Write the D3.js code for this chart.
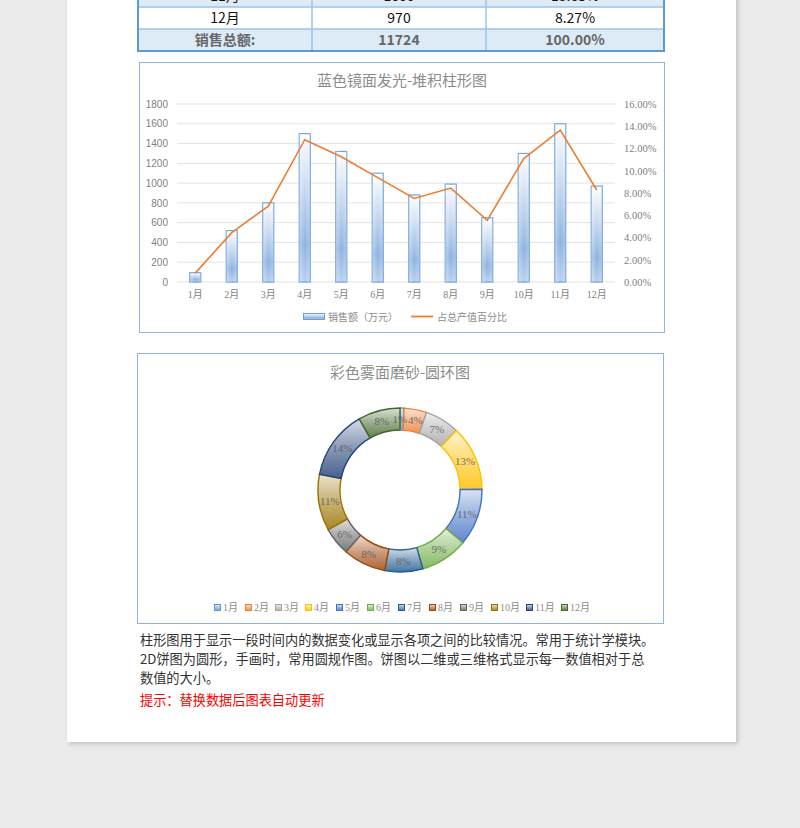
<!DOCTYPE html>
<html><head><meta charset="utf-8">
<script src="https://cdn.jsdelivr.net/npm/d3@7/dist/d3.min.js"></script>
<style>
html,body{margin:0;padding:0;background:#ebebeb;}
svg{display:block;}
</style></head>
<body>
<svg id="c" width="800" height="828"></svg>
<script>
const months = ["1月","2月","3月","4月","5月","6月","7月","8月","9月","10月","11月","12月"];
const sales = [94,520,800,1500,1320,1100,880,990,650,1300,1600,970];
const share = [0.0080,0.0444,0.0682,0.1279,0.1126,0.0938,0.0751,0.0844,0.0554,0.1109,0.1365,0.0827];
const leftTicks = [0,200,400,600,800,1000,1200,1400,1600,1800];
const rightTicks = [0,0.02,0.04,0.06,0.08,0.10,0.12,0.14,0.16];
const donutLabels = ["1%","4%","7%","13%","11%","9%","8%","8%","6%","11%","14%","8%"];
const donutColors = ["#5b9bd5","#ed7d31","#a5a5a5","#ffc000","#4472c4","#70ad47","#255e91","#9e480e","#636363","#997300","#264478","#43682b"];
const tableRows = [["11月","1600","13.65%"],["12月","970","8.27%"],["销售总额:","11724","100.00%"]];
const barTitle = "蓝色镜面发光-堆积柱形图";
const donutTitle = "彩色雾面磨砂-圆环图";
const legendBar = "销售额（万元）";
const legendLine = "占总产值百分比";
const para = ["柱形图用于显示一段时间内的数据变化或显示各项之间的比较情况。常用于统计学模块。",
              "2D饼图为圆形，手画时，常用圆规作图。饼图以二维或三维格式显示每一数值相对于总",
              "数值的大小。"];
const tip = "提示：替换数据后图表自动更新";

const CJK = "'Noto Sans CJK SC','Noto Sans',sans-serif";
const SERIF = "'Liberation Serif','DejaVu Serif','Noto Sans CJK SC',serif";
const svg = d3.select("#c");
const defs = svg.append("defs");

const f = defs.append("filter").attr("id","sh").attr("x","-5%").attr("y","-5%").attr("width","110%").attr("height","110%");
f.append("feDropShadow").attr("dx",2).attr("dy",2).attr("stdDeviation",2).attr("flood-color","#000").attr("flood-opacity",0.18);

svg.append("rect").attr("x",67).attr("y",-10).attr("width",669).attr("height",752).attr("fill","#fff").attr("filter","url(#sh)");

// ---------- table ----------
const colX = [138,312,486,664];
const rowY = [-15,7,29,51];
const tg = svg.append("g");
tableRows.forEach((r,i)=>{
  const y0=rowY[i], y1=rowY[i+1];
  tg.append("rect").attr("x",colX[0]).attr("y",y0).attr("width",colX[3]-colX[0]).attr("height",y1-y0)
    .attr("fill", i===1 ? "#ffffff" : "#ddebf7");
  r.forEach((t,j)=>{
    tg.append("text").attr("x",(colX[j]+colX[j+1])/2).attr("y",(y0+y1)/2+5)
      .attr("text-anchor","middle").attr("font-family",CJK).attr("font-size",14)
      .attr("font-weight", i===2?"bold":"normal")
      .attr("fill", i===2?"#666666":"#111111").text(t);
  });
});
rowY.slice(1,3).forEach(y=>tg.append("line").attr("x1",colX[0]).attr("x2",colX[3]).attr("y1",y).attr("y2",y).attr("stroke","#9dc3e6").attr("stroke-width",1.5));
colX.forEach((x,j)=>tg.append("line").attr("x1",x).attr("x2",x).attr("y1",-15).attr("y2",51).attr("stroke", (j===0||j===3)?"#5b9bd5":"#9dc3e6").attr("stroke-width",(j===0||j===3)?2:1.5));
tg.append("line").attr("x1",colX[0]-1).attr("x2",colX[3]+1).attr("y1",51).attr("y2",51).attr("stroke","#5b9bd5").attr("stroke-width",2);

// ---------- bar chart ----------
svg.append("rect").attr("x",139.5).attr("y",62.5).attr("width",525).attr("height",270).attr("fill","#fff").attr("stroke","#8db4e2").attr("stroke-width",1);
svg.append("text").attr("x",402).attr("y",86).attr("text-anchor","middle").attr("font-family",CJK).attr("font-size",15).attr("fill","#8c8c8c").text(barTitle);

const x = d3.scaleBand().domain(months).range([177,615]);
const yL = d3.scaleLinear().domain([0,1800]).range([282,104]);
const yR = d3.scaleLinear().domain([0,0.16]).range([282,104]);

const grid = svg.append("g");
leftTicks.forEach(t=>grid.append("line").attr("x1",177).attr("x2",615).attr("y1",yL(t)).attr("y2",yL(t)).attr("stroke","#e3e3e3").attr("stroke-width",1));

const axL = svg.append("g").attr("transform","translate(172,0)").call(d3.axisLeft(yL).tickValues(leftTicks).tickSize(0).tickPadding(4).tickFormat(d3.format("d")));
axL.select(".domain").remove();
axL.selectAll("text").attr("font-family","'Liberation Sans',Arial,sans-serif").attr("font-size",10).attr("fill","#7f7f7f");

const axR = svg.append("g").attr("transform","translate(620,0)").call(d3.axisRight(yR).tickValues(rightTicks).tickSize(0).tickPadding(4).tickFormat(d3.format(".2%")));
axR.select(".domain").remove();
axR.selectAll("text").attr("font-family",SERIF).attr("font-size",10.5).attr("fill","#7f7f7f");

const axB = svg.append("g").attr("transform","translate(0,282)").call(d3.axisBottom(x).tickSize(0).tickPadding(9));
axB.select(".domain").remove();
axB.selectAll("text").attr("font-family",SERIF).attr("font-size",10).attr("fill","#7f7f7f");

const bg = defs.append("linearGradient").attr("id","barG").attr("x1",0).attr("y1",0).attr("x2",0).attr("y2",1);
bg.append("stop").attr("offset","0").attr("stop-color","#ffffff");
bg.append("stop").attr("offset","0.75").attr("stop-color","#8fb3e0");
bg.append("stop").attr("offset","1").attr("stop-color","#b9d0ee");
const bg2 = defs.append("linearGradient").attr("id","barH").attr("x1",0).attr("y1",0).attr("x2",1).attr("y2",0);
bg2.append("stop").attr("offset","0").attr("stop-color","#ffffff").attr("stop-opacity",0.35);
bg2.append("stop").attr("offset","0.5").attr("stop-color","#ffffff").attr("stop-opacity",0);
bg2.append("stop").attr("offset","1").attr("stop-color","#ffffff").attr("stop-opacity",0.25);

const bw = 11;
svg.append("g").selectAll("rect").data(sales).join("rect")
  .attr("x",(d,i)=>x(months[i])+x.bandwidth()/2-bw/2).attr("y",d=>yL(d))
  .attr("width",bw).attr("height",d=>yL(0)-yL(d))
  .attr("fill","url(#barG)").attr("stroke","#6d9fdb").attr("stroke-width",1.2);
svg.append("g").selectAll("rect").data(sales).join("rect")
  .attr("x",(d,i)=>x(months[i])+x.bandwidth()/2-bw/2).attr("y",d=>yL(d))
  .attr("width",bw).attr("height",d=>yL(0)-yL(d))
  .attr("fill","url(#barH)");

const line = d3.line().x((d,i)=>x(months[i])+x.bandwidth()/2).y(d=>yR(d));
svg.append("path").datum(share).attr("d",line).attr("fill","none").attr("stroke","#ed7d31").attr("stroke-width",1.6);

const lg = svg.append("g");
lg.append("rect").attr("x",303.5).attr("y",313.5).attr("width",21).attr("height",6).attr("fill","url(#barG)").attr("stroke","#6d9fdb");
lg.append("text").attr("x",328).attr("y",321).attr("font-family",CJK).attr("font-size",10).attr("fill","#8c8c8c").text(legendBar);
lg.append("line").attr("x1",411).attr("x2",433).attr("y1",316.5).attr("y2",316.5).attr("stroke","#ed7d31").attr("stroke-width",1.8);
lg.append("text").attr("x",437).attr("y",321).attr("font-family",CJK).attr("font-size",10).attr("fill","#8c8c8c").text(legendLine);

// ---------- donut ----------
svg.append("rect").attr("x",137.5).attr("y",353.5).attr("width",526).attr("height",270).attr("fill","#fff").attr("stroke","#8db4e2").attr("stroke-width",1);
svg.append("text").attr("x",400).attr("y",378).attr("text-anchor","middle").attr("font-family",CJK).attr("font-size",15).attr("fill","#8c8c8c").text(donutTitle);

const cx=400, cy=490, rO=82, rI=60;
donutColors.forEach((c,i)=>{
  const g = defs.append("linearGradient").attr("id","dg"+i).attr("x1",0).attr("y1",0).attr("x2",0).attr("y2",1);
  const lc = d3.interpolateRgb("#ffffff", c);
  g.append("stop").attr("offset","0").attr("stop-color",lc(0.2));
  g.append("stop").attr("offset","0.5").attr("stop-color",lc(0.55));
  g.append("stop").attr("offset","1").attr("stop-color",lc(0.85));
});
const pie = d3.pie().sort(null).value(d=>d);
const arc = d3.arc().innerRadius(rI).outerRadius(rO);
const arcs = pie(sales);
const dg = svg.append("g").attr("transform",`translate(${cx},${cy})`);
dg.selectAll("path").data(arcs).join("path").attr("d",arc)
  .attr("fill",(d,i)=>`url(#dg${i})`).attr("stroke",(d,i)=>donutColors[i]).attr("stroke-width",1.4);
dg.selectAll("text").data(arcs).join("text")
  .attr("transform",(d,i)=>{const c=arc.centroid(d); if(i===0) c[0]-=2; if(i===1) c[0]+=2; return `translate(${c})`;})
  .attr("dy","0.35em")
  .attr("text-anchor","middle").attr("font-family",SERIF).attr("font-size",11).attr("fill","#595959").attr("fill-opacity",0.85)
  .text((d,i)=>donutLabels[i]);

const legX = [214,245,275,305,336,367,398,429,460,491,526,561];
const dl = svg.append("g");
months.forEach((m,i)=>{
  dl.append("rect").attr("x",legX[i]+0.5).attr("y",604.5).attr("width",6).attr("height",6)
    .attr("fill",`url(#dg${i})`).attr("stroke",donutColors[i]);
  dl.append("text").attr("x",legX[i]+9).attr("y",611).attr("font-family",SERIF).attr("font-size",10).attr("fill","#8c8c8c").text(m);
});

// ---------- text ----------
para.forEach((t,i)=>{
  svg.append("text").attr("x",140).attr("y",645+i*19).attr("font-family",CJK).attr("font-size",13.2).attr("fill","#333333").text(t);
});
svg.append("text").attr("x",140).attr("y",705).attr("font-family",CJK).attr("font-size",13.2).attr("fill","#ff0000").text(tip);
</script>
</body></html>
